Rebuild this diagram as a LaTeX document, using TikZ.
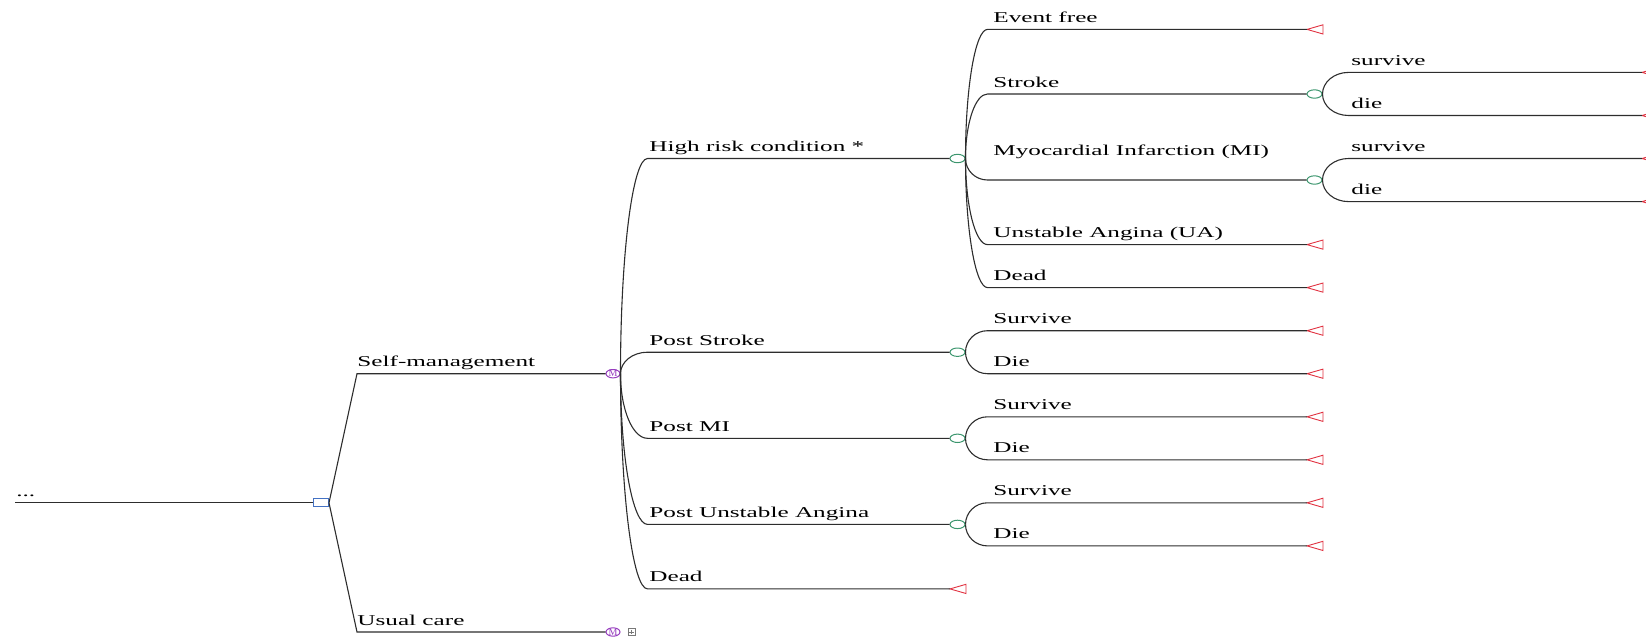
\documentclass[tikz,border=0pt]{standalone}
\usepackage{fontspec}
\newfontfamily\treefont[FakeStretch=1.68]{Liberation Serif}
\newfontfamily\markfont{Liberation Serif}
\usetikzlibrary{shapes.geometric,calc,positioning}
\definecolor{linecolor}{RGB}{45,45,45}
\definecolor{decisioncolor}{RGB}{68,114,196}
\definecolor{markovcolor}{RGB}{150,60,190}
\definecolor{chancecolor}{RGB}{60,150,110}
\definecolor{termcolor}{RGB}{225,50,65}
\definecolor{boxcolor}{RGB}{120,120,120}
\tikzset{
branchline/.style={
  draw=linecolor,
  line width=0.55pt
},
lbl/.style={
  anchor=base west,
  inner sep=0pt,
  font=\treefont\fontsize{7.5}{9}\selectfont,
  text=black
},
decisionnode/.style={
  draw=decisioncolor,
  rectangle,
  line width=0.5pt,
  minimum width=7.5pt,
  minimum height=4pt,
  inner sep=0pt
},
chancenode/.style={
  draw=chancecolor,
  ellipse,
  line width=0.5pt,
  minimum width=7.5pt,
  minimum height=4.2pt,
  inner sep=0pt
},
markovtext/.style={
  inner sep=0pt,
  text=markovcolor,
  font=\markfont\fontsize{5}{5}\selectfont
},
markovnode/.style={
  draw=markovcolor,
  ellipse,
  line width=0.5pt,
  minimum width=7pt,
  minimum height=4.2pt,
  inner sep=0pt,
  label={[markovtext]center:M}
},
plusbox/.style={
  draw=boxcolor,
  rectangle,
  line width=0.4pt,
  minimum size=3.5pt,
  inner sep=0pt,
  path picture={
    \draw[boxcolor, line width=0.3pt]
      ([xshift=0.7pt]path picture bounding box.west) -- ([xshift=-0.7pt]path picture bounding box.east)
      ([yshift=-0.7pt]path picture bounding box.north) -- ([yshift=0.7pt]path picture bounding box.south);
  }
},
term/.pic={
  \draw[termcolor, line width=0.45pt, line join=miter]
    (0,0) -- (8pt,2.3pt) -- (8pt,-2.3pt) -- cycle;
}
}
% curved branch: node east -> quarter ellipse -> horizontal to target
\newcommand{\treebranch}[3][11pt]{%
  \draw[branchline] let \p1=(#2.east), \p2=(#3) in
    (\p1) arc[start angle=180, end angle={\y2>\y1 ? 90 : 270},
      x radius=#1, y radius={abs(\y2-\y1)}] -- (\p2);}

\begin{document}
\begin{tikzpicture}[x=0.5pt, y=-0.5pt]
\useasboundingbox (0,0) rectangle (1646,638);

% nodes
\coordinate (root) at (15,502.8);
\node[decisionnode] (d) at (321,502.8) {};
\node[markovnode] (m1) at (613,373.7) {};
\node[markovnode] (m2) at (613,632) {};
\node[plusbox] (pb) at (631.5,632) {};

\node[chancenode] (c-hr) at (957.5,158.5) {};
\node[chancenode] (c-ps) at (957.5,352.2) {};
\node[chancenode] (c-pmi) at (957.5,438.3) {};
\node[chancenode] (c-pua) at (957.5,524.4) {};
\node[chancenode] (c-st) at (1314.5,94.0) {};
\node[chancenode] (c-mi) at (1314.5,180.0) {};

% terminals
\coordinate (t-dead) at (950,588.9);
\coordinate (t-ef) at (1307,29.4);
\coordinate (t-ua) at (1307,244.6);
\coordinate (t-dd) at (1307,287.6);
\coordinate (t-ps-s) at (1307,330.7);
\coordinate (t-ps-d) at (1307,373.7);
\coordinate (t-pmi-s) at (1307,416.8);
\coordinate (t-pmi-d) at (1307,459.8);
\coordinate (t-pua-s) at (1307,502.8);
\coordinate (t-pua-d) at (1307,545.9);
\coordinate (t-st-s) at (1642,72.4);
\coordinate (t-st-d) at (1642,115.5);
\coordinate (t-mi-s) at (1642,158.5);
\coordinate (t-mi-d) at (1642,201.6);
\foreach \t in {t-dead,t-ef,t-ua,t-dd,t-ps-s,t-ps-d,t-pmi-s,t-pmi-d,
  t-pua-s,t-pua-d,t-st-s,t-st-d,t-mi-s,t-mi-d}
  \pic at (\t) {term};

% branches
\draw[branchline] (root) -- (d.west);
\draw[branchline] let \p1=(d.east), \p2=(m1.west) in
  (\p1) -- (\x1+14pt,\y2) -- (\p2);
\draw[branchline] let \p1=(d.east), \p2=(m2.west) in
  (\p1) -- (\x1+14pt,\y2) -- (\p2);

\treebranch[13.5pt]{m1}{c-hr.west}
\treebranch[13.5pt]{m1}{c-ps.west}
\treebranch[13.5pt]{m1}{c-pmi.west}
\treebranch[13.5pt]{m1}{c-pua.west}
\treebranch[13.5pt]{m1}{t-dead}

\treebranch{c-hr}{t-ef}
\treebranch{c-hr}{c-st.west}
\treebranch{c-hr}{c-mi.west}
\treebranch{c-hr}{t-ua}
\treebranch{c-hr}{t-dd}
\treebranch{c-ps}{t-ps-s}
\treebranch{c-ps}{t-ps-d}
\treebranch{c-pmi}{t-pmi-s}
\treebranch{c-pmi}{t-pmi-d}
\treebranch{c-pua}{t-pua-s}
\treebranch{c-pua}{t-pua-d}
\treebranch[13pt]{c-st}{t-st-s}
\treebranch[13pt]{c-st}{t-st-d}
\treebranch[13pt]{c-mi}{t-mi-s}
\treebranch[13pt]{c-mi}{t-mi-d}

% labels
\node[lbl] (l-root) at (16,496) {...};
\node[lbl] (l-sm) at (357,366.7) {Self-management};
\node[lbl] (l-uc) at (357,625) {Usual care};
\node[lbl] (l-hr) at (649,151.5) {High risk condition *};
\node[lbl] (l-ps) at (649,345.2) {Post Stroke};
\node[lbl] (l-pmi) at (649,431.3) {Post MI};
\node[lbl] (l-pua) at (649,517.4) {Post Unstable Angina};
\node[lbl] (l-dead) at (649,581.9) {Dead};
\node[lbl] (l-ef) at (993,22.4) {Event free};
\node[lbl] (l-st) at (993,87) {Stroke};
\node[lbl] (l-mi) at (993,155) {Myocardial Infarction (MI)};
\node[lbl] (l-ua) at (993,237.6) {Unstable Angina (UA)};
\node[lbl] (l-dd) at (993,280.6) {Dead};
\node[lbl] (l-ps-s) at (993,323.7) {Survive};
\node[lbl] (l-ps-d) at (993,366.7) {Die};
\node[lbl] (l-pmi-s) at (993,409.8) {Survive};
\node[lbl] (l-pmi-d) at (993,452.8) {Die};
\node[lbl] (l-pua-s) at (993,495.8) {Survive};
\node[lbl] (l-pua-d) at (993,538.9) {Die};
\node[lbl] (l-st-s) at (1351,65.4) {survive};
\node[lbl] (l-st-d) at (1351,108.5) {die};
\node[lbl] (l-mi-s) at (1351,151.5) {survive};
\node[lbl] (l-mi-d) at (1351,194.6) {die};
\end{tikzpicture}
\end{document}
